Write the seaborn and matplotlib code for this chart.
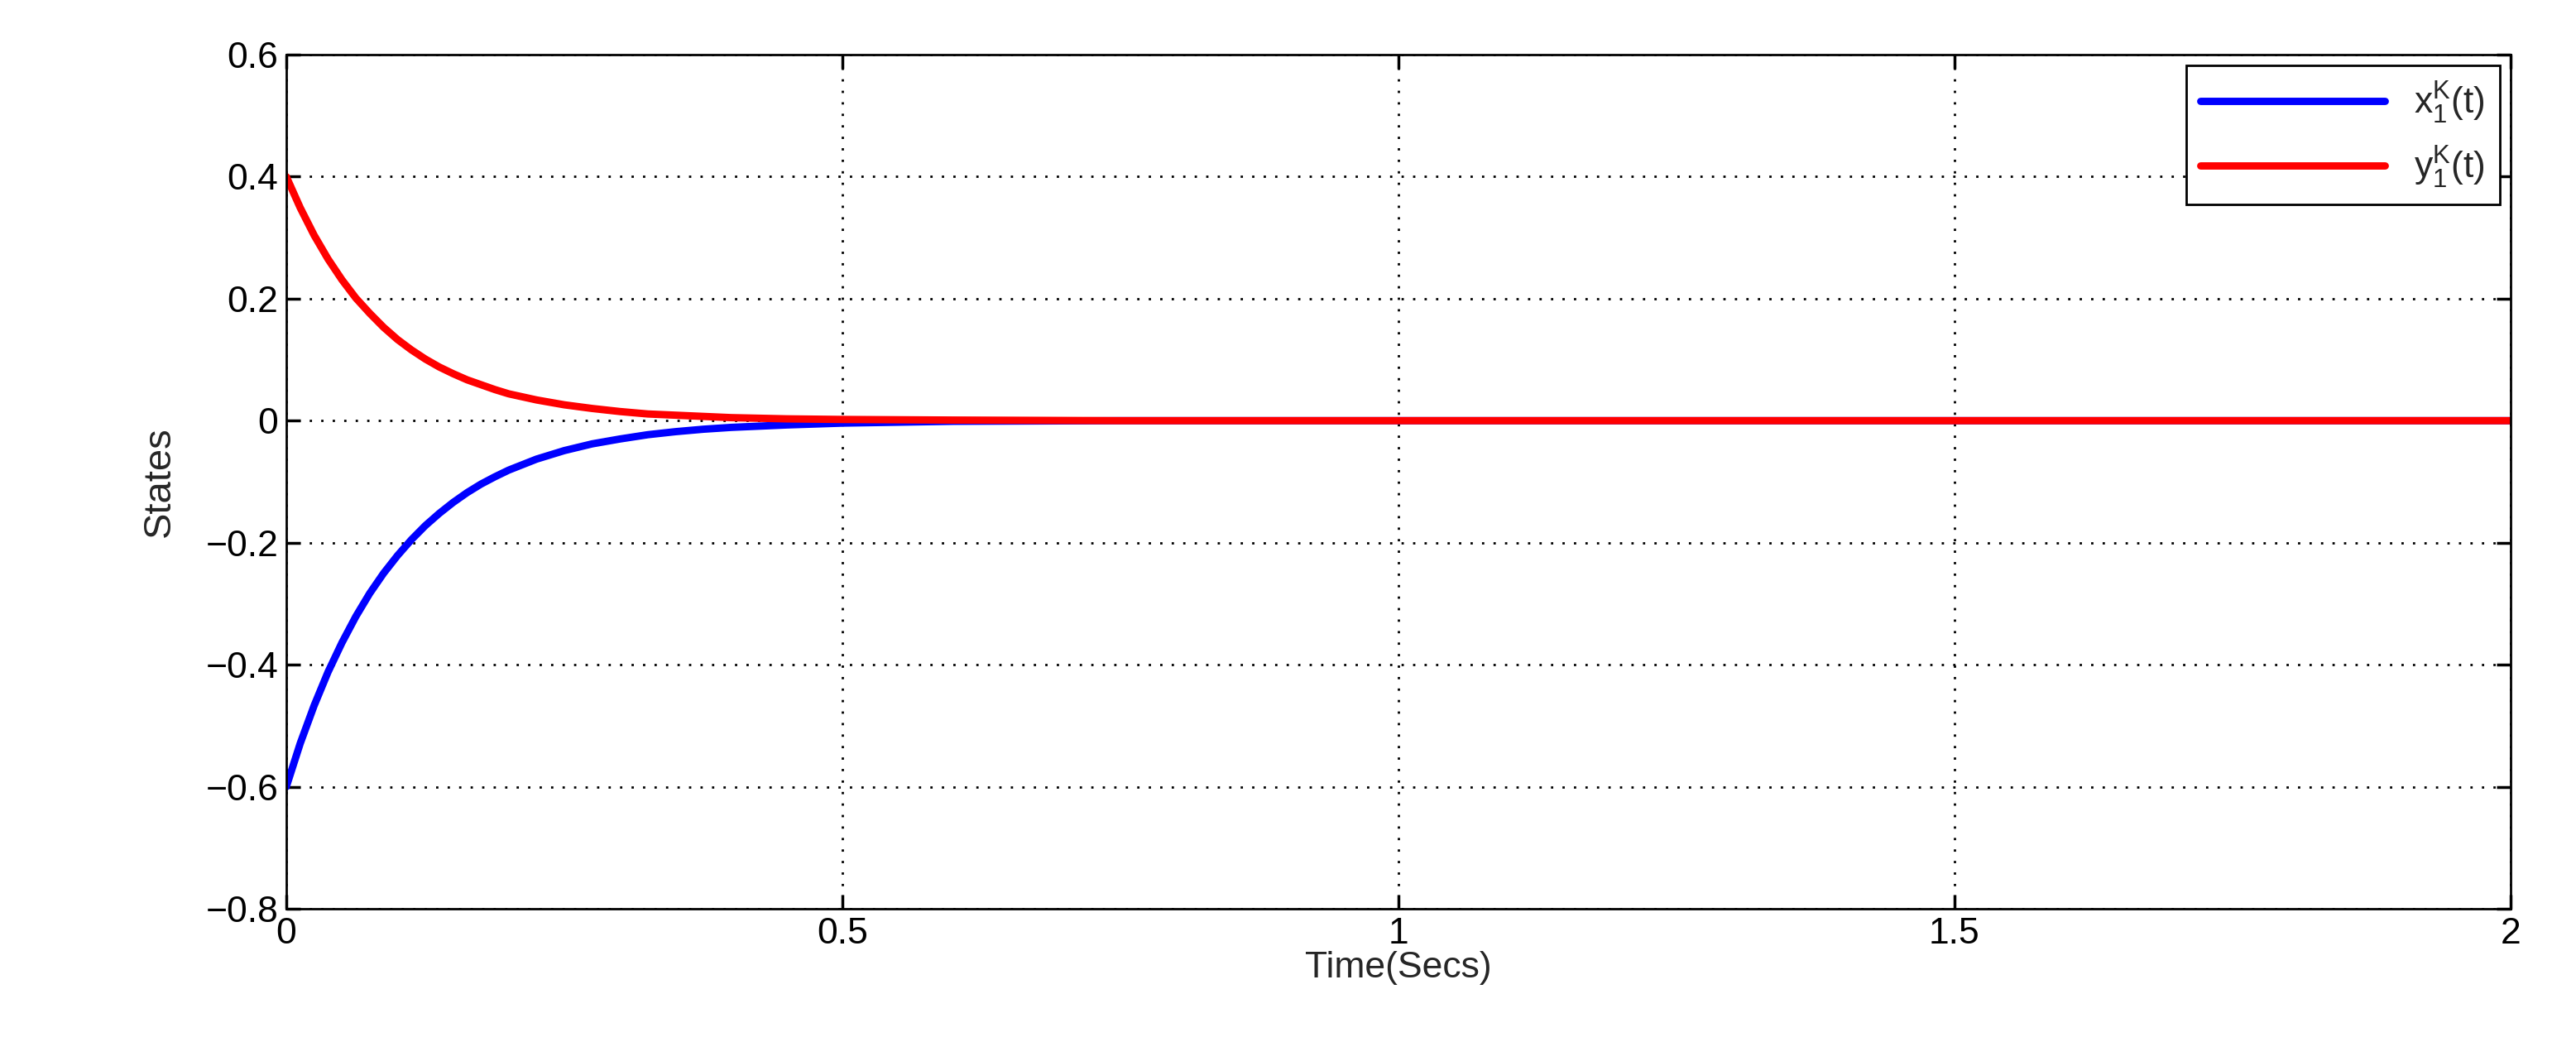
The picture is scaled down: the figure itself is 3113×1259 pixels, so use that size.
import matplotlib
matplotlib.use("Agg")
import matplotlib.pyplot as plt
import pandas as pd
import seaborn as sns

t = [0, 0.0125, 0.025, 0.0375, 0.05, 0.0625, 0.075, 0.0875, 0.1, 0.1125, 0.125,
     0.1375, 0.15, 0.1625, 0.175, 0.1875, 0.2, 0.225, 0.25, 0.275,
     0.3, 0.325, 0.35, 0.375, 0.4, 0.45, 0.5, 0.6, 0.75, 1.0, 1.5, 2.0]
x1 = [-0.600, -0.529, -0.467, -0.412, -0.364, -0.321, -0.283, -0.250, -0.221,
      -0.195, -0.172, -0.152, -0.134, -0.118, -0.104, -0.092, -0.081,
      -0.063, -0.049, -0.038, -0.030, -0.023, -0.018, -0.014, -0.011, -0.007,
      -0.004, -0.001, 0, 0, 0, 0]
y1 = [0.400, 0.349, 0.304, 0.265, 0.231, 0.201, 0.176, 0.153, 0.133, 0.116,
      0.101, 0.088, 0.077, 0.067, 0.059, 0.051, 0.044, 0.034,
      0.026, 0.020, 0.015, 0.011, 0.009, 0.007, 0.005, 0.003, 0.002, 0.001,
      0, 0, 0, 0]

df = pd.DataFrame({"t": t, "x": x1, "y": y1})

sns.set_theme(style="white")
plt.rcParams["font.family"] = ["Liberation Sans", "DejaVu Sans"]
plt.rcParams["mathtext.fontset"] = "custom"
plt.rcParams["mathtext.rm"] = "Liberation Sans"
plt.rcParams["mathtext.it"] = "Liberation Sans"

fig = plt.figure(figsize=(15.565, 6.295), dpi=200)
ax = fig.add_axes([346 / 3113, 1 - 1098 / 1259, (3034 - 346) / 3113, (1098 - 66) / 1259])

sns.lineplot(data=df, x="t", y="x", ax=ax, color="#0000ff", linewidth=3.2,
             label=r"$\mathrm{x_1^K(t)}$")
sns.lineplot(data=df, x="t", y="y", ax=ax, color="#ff0000", linewidth=3.2,
             label=r"$\mathrm{y_1^K(t)}$")

ax.set_xlim(0, 2)
ax.set_ylim(-0.8, 0.6)
ax.set_xticks([0, 0.5, 1, 1.5, 2])
ax.set_xticklabels(["0", "0.5", "1", "1.5", "2"])
ax.set_yticks([-0.8, -0.6, -0.4, -0.2, 0, 0.2, 0.4, 0.6])
ax.set_yticklabels(["\u22120.8", "\u22120.6", "\u22120.4", "\u22120.2", "0", "0.2", "0.4", "0.6"])
ax.grid(True, color="black", linestyle=(0, (1, 4)), linewidth=1.0)
ax.tick_params(direction="in", length=6, labelsize=16, colors="black",
               top=True, right=True, bottom=True, left=True)
for s in ax.spines.values():
    s.set_color("black")
    s.set_linewidth(1.0)
ax.set_xlabel("Time(Secs)", fontsize=16, labelpad=0)
ax.set_ylabel("States", fontsize=17, labelpad=12)
ax.yaxis.label.set_stretch("condensed")

leg = ax.legend(loc="upper right", fontsize=16, frameon=True, fancybox=False,
                edgecolor="black", handlelength=5, borderaxespad=0.3,
                framealpha=1)
leg.get_frame().set_linewidth(1.0)

fig.savefig("out.png", dpi=200, facecolor="white")
